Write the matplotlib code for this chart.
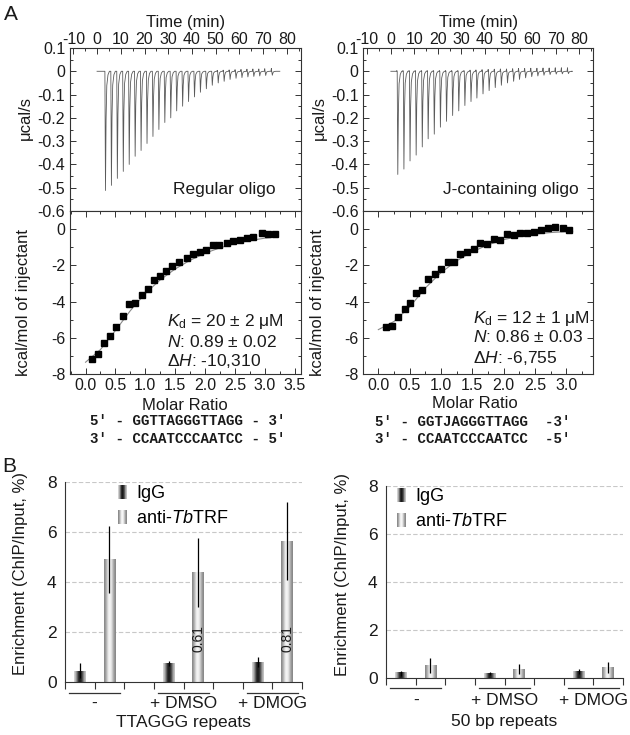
import matplotlib
matplotlib.use('Agg')
import matplotlib.pyplot as plt
import numpy as np
from matplotlib.ticker import MultipleLocator, FuncFormatter
from matplotlib.legend_handler import HandlerBase
from matplotlib.patches import Rectangle

plt.rcParams['font.family'] = ['Liberation Sans', 'DejaVu Sans']
plt.rcParams['axes.unicode_minus'] = False
plt.rcParams['mathtext.fontset'] = 'custom'
plt.rcParams['mathtext.rm'] = 'Liberation Sans'
plt.rcParams['mathtext.it'] = 'Liberation Sans:italic'
plt.rcParams['mathtext.bf'] = 'Liberation Sans:bold'

# ---------------- DATA ----------------
# ITC raw thermogram: injection times (min) and peak heights (ucal/s)
inj_time_L = [3.3, 5.8, 8.3, 10.8, 13.3, 15.8, 18.3, 20.8, 23.3, 25.8, 28.3, 30.8, 33.3, 35.8, 38.3,
              40.8, 43.3, 45.8, 48.3, 50.8, 53.3, 55.8, 58.3, 60.8, 63.3, 65.8, 68.3, 70.8, 73.6]
peak_L = [-0.512, -0.49, -0.46, -0.43, -0.40, -0.365, -0.34, -0.31, -0.28, -0.25, -0.22, -0.20, -0.17,
          -0.15, -0.13, -0.11, -0.09, -0.075, -0.06, -0.05, -0.043, -0.035, -0.03, -0.027, -0.024,
          -0.022, -0.02, -0.018, -0.017]
up_L = [0.0] * 19 + [0.004, 0.005, 0.006, 0.007, 0.008, 0.009, 0.01, 0.01, 0.011, 0.012]

inj_time_R = [2.7, 5.3, 7.9, 10.5, 13.1, 15.6, 18.2, 20.8, 23.4, 26.0, 28.6, 31.2, 33.8, 36.3, 38.9,
              41.5, 44.1, 46.7, 49.3, 51.9, 54.4, 57.0, 59.6, 62.2, 64.8, 67.4, 70.0, 72.6, 75.2]
peak_R = [-0.443, -0.42, -0.385, -0.36, -0.325, -0.29, -0.27, -0.24, -0.215, -0.19, -0.17, -0.147,
          -0.13, -0.115, -0.097, -0.083, -0.07, -0.06, -0.05, -0.043, -0.035, -0.028, -0.023, -0.02,
          -0.017, -0.014, -0.012, -0.011, -0.01]
up_R = [0.003] * 12 + [0.005, 0.006, 0.007, 0.008, 0.009, 0.01, 0.01, 0.011, 0.012, 0.012, 0.013,
                       0.013, 0.014, 0.014, 0.015, 0.015, 0.015]

# ITC integrated heats
mr_L = [0.11, 0.21, 0.31, 0.41, 0.51, 0.62, 0.73, 0.83, 0.94, 1.04, 1.14, 1.25, 1.35, 1.45, 1.57,
        1.69, 1.80, 1.91, 2.02, 2.13, 2.24, 2.36, 2.47, 2.58, 2.70, 2.81, 2.95, 3.06, 3.17]
heat_L = [-7.19, -6.89, -6.31, -5.88, -5.39, -4.80, -4.14, -4.06, -3.64, -3.29, -2.83, -2.61, -2.30,
          -2.04, -1.80, -1.62, -1.38, -1.25, -1.14, -0.90, -0.88, -0.77, -0.68, -0.59, -0.48, -0.42,
          -0.22, -0.29, -0.28]
fit_x_L = [0.0, 0.25, 0.5, 0.75, 1.0, 1.25, 1.5, 1.75, 2.0, 2.25, 2.5, 2.75, 3.0, 3.2]
fit_y_L = [-7.35, -6.65, -5.6, -4.5, -3.55, -2.8, -2.2, -1.72, -1.33, -1.03, -0.8, -0.63, -0.5, -0.43]

mr_R = [0.12, 0.21, 0.31, 0.42, 0.51, 0.60, 0.70, 0.80, 0.90, 1.00, 1.11, 1.21, 1.31, 1.41, 1.52,
        1.62, 1.73, 1.84, 1.94, 2.05, 2.16, 2.26, 2.37, 2.49, 2.59, 2.71, 2.82, 2.94, 3.05]
heat_R = [-5.40, -5.33, -4.84, -4.43, -4.08, -3.53, -3.35, -2.78, -2.47, -2.23, -1.81, -1.81, -1.37,
          -1.28, -1.08, -0.77, -0.82, -0.55, -0.60, -0.27, -0.33, -0.24, -0.22, -0.15, -0.04, 0.07,
          0.13, 0.07, -0.04]
fit_x_R = [0.0, 0.25, 0.5, 0.75, 1.0, 1.25, 1.5, 1.75, 2.0, 2.25, 2.5, 2.75, 3.0, 3.1]
fit_y_R = [-5.55, -5.1, -4.3, -3.25, -2.4, -1.75, -1.25, -0.87, -0.58, -0.4, -0.27, -0.19, -0.14, -0.13]

# ChIP
groups = ['-', '+ DMSO', '+ DMOG']
series = ['IgG', 'anti-$Tb$TRF']
ttaggg_igg = [0.43, 0.73, 0.77]
ttaggg_igg_err = [0.3, 0.1, 0.2]
ttaggg_anti = [4.9, 4.37, 5.64]
ttaggg_anti_err = [1.33, 1.37, 1.55]
ttaggg_ratio = ['', '0.61', '0.81']
bp50_igg = [0.21, 0.2, 0.27]
bp50_igg_err = [0.11, 0.07, 0.1]
bp50_anti = [0.52, 0.37, 0.44]
bp50_anti_err = [0.31, 0.21, 0.22]

# ---------------- LAYOUT ----------------
W, H = 630, 735
fig = plt.figure(figsize=(6.3, 7.35), dpi=100)
TXT = '#1a1a1a'


def rect(x0, y0, x1, y1):
    return [x0 / W, 1 - y1 / H, (x1 - x0) / W, (y1 - y0) / H]


def ftext(x, y, s, **kw):
    kw.setdefault('color', TXT)
    fig.text(x / W, 1 - y / H, s, **kw)


def fmt1(v, p):
    return '0' if abs(v) < 1e-9 else f'{v:.1f}'


def fmt0(v, p):
    return f'{v:.0f}'


def style_itc(ax):
    for s in ax.spines.values():
        s.set_color('#333333')
        s.set_linewidth(0.8)
    ax.tick_params(which='both', direction='in', colors='#333333', labelcolor=TXT,
                   labelsize=11.5, width=0.7)
    ax.tick_params(which='major', length=4)
    ax.tick_params(which='minor', length=2)


def itc(x0, x1, times, peaks, ups, mr, heat, fx, fy, xlim_t, xlim_m, label, annot, ann_xy,
        ylx_top, ylx_bot):
    axt = fig.add_axes(rect(x0, 48, x1, 211))
    axb = fig.add_axes(rect(x0, 211, x1, 374))
    # thermogram built from injection data
    shape_dt = [-0.35, -0.15, -0.05, 0.0, 0.25, 0.5, 0.8, 1.3, 1.9]
    tt = [0.0]
    yy = [0.0]
    for t, h, u in zip(times, peaks, ups):
        for dt, fr in zip(shape_dt, [0, 'u', 0, 0, 1.0, 0.4, 0.12, 0.03, 0]):
            tt.append(t + dt)
            yy.append(u if fr == 'u' else h * fr)
    tt.append(77.0)
    yy.append(0.0)
    axt.plot(tt, yy, color='#5a5a5a', lw=0.6)
    axt.set_xlim(*xlim_t)
    axt.set_ylim(-0.6, 0.1)
    axt.xaxis.set_major_locator(MultipleLocator(10))
    axt.xaxis.set_minor_locator(MultipleLocator(5))
    axt.yaxis.set_major_locator(MultipleLocator(0.1))
    axt.yaxis.set_minor_locator(MultipleLocator(0.05))
    axt.yaxis.set_major_formatter(FuncFormatter(fmt1))
    style_itc(axt)
    axt.tick_params(which='both', top=True, bottom=False, left=True, right=True,
                    labeltop=True, labelbottom=False)
    axt.tick_params(axis='x', pad=1)
    axt.set_xlabel('Time (min)', fontsize=12, color=TXT, labelpad=3)
    axt.xaxis.set_label_position('top')
    axt.set_ylabel('μcal/s', fontsize=12, color=TXT)
    axt.yaxis.set_label_coords(ylx_top, 0.57)
    axt.text(label[1], 0.13, label[0], transform=axt.transAxes, ha='right', va='center',
             fontsize=12.5, color=TXT)

    axb.plot(fx, fy, color='#8a8a8a', lw=0.8, zorder=2)
    axb.plot(mr, heat, ls='none', marker='s', ms=4.2, color='black', zorder=3)
    axb.set_xlim(*xlim_m)
    axb.set_ylim(-8, 1)
    axb.xaxis.set_major_locator(MultipleLocator(0.5))
    axb.xaxis.set_minor_locator(MultipleLocator(0.25))
    axb.yaxis.set_major_locator(MultipleLocator(2))
    axb.yaxis.set_minor_locator(MultipleLocator(1))
    axb.xaxis.set_major_formatter(FuncFormatter(lambda v, p: f'{v:.1f}'))
    axb.yaxis.set_major_formatter(FuncFormatter(fmt0))
    axb.set_yticks([-8, -6, -4, -2, 0])
    style_itc(axb)
    axb.tick_params(which='both', top=True, right=True, labeltop=False, labelright=False)
    axb.tick_params(axis='x', pad=3)
    axb.set_ylabel('kcal/mol of injectant', fontsize=12, color=TXT)
    axb.yaxis.set_label_coords(ylx_bot, 0.44)
    for s, (ax_, ay_) in zip(annot, ann_xy):
        axb.text(ax_, ay_, s, transform=axb.transAxes, ha='left', va='center',
                 fontsize=12.5, color=TXT)
    return axt, axb


itc(70, 300.7, inj_time_L, peak_L, up_L, mr_L, heat_L, fit_x_L, fit_y_L,
    (-11.4, 85.8), (-0.26, 3.6), ('Regular oligo', 0.89),
    [r'$K_\mathrm{d}$ = 20 ± 2 μM', r'$N$: 0.89 ± 0.02', r'Δ$H$: -10,310'],
    [(0.42, 0.325), (0.42, 0.198), (0.42, 0.082)], -0.16, -0.17)
itc(363.3, 593.3, inj_time_R, peak_R, up_R, mr_R, heat_R, fit_x_R, fit_y_R,
    (-11.7, 86.0), (-0.24, 3.43), ('J-containing oligo', 0.935),
    [r'$K_\mathrm{d}$ = 12 ± 1 μM', r'$N$: 0.86 ± 0.03', r'Δ$H$: -6,755'],
    [(0.478, 0.342), (0.478, 0.229), (0.478, 0.096)], -0.16, -0.165)

ftext(185, 406, 'Molar Ratio', ha='center', va='center', fontsize=12)
ftext(475, 404, 'Molar Ratio', ha='center', va='center', fontsize=12)
mono = dict(family=['Liberation Mono', 'DejaVu Sans Mono'], weight='bold', fontsize=10.2,
            ha='center', va='center')
ftext(188, 421, "5′ - GGTTAGGGTTAGG - 3′", **mono)
ftext(188, 439, "3′ - CCAATCCCAATCC - 5′", **mono)
ftext(473, 422, "5′ - GGTJAGGGTTAGG  -3′", **mono)
ftext(473, 439, "3′ - CCAATCCCAATCC  -5′", **mono)
ftext(4, 14, 'A', ha='left', va='center', fontsize=15)
ftext(2, 467, 'B', ha='left', va='center', fontsize=15)

# ---------------- ChIP bar charts ----------------
grad_igg = ['#d0d0d0', '#a8a8a8', '#6a6a6a', '#2e2e2e', '#1a1a1a', '#2e2e2e', '#5a5a5a', '#9a9a9a',
            '#c0c0c0']
grad_anti = ['#8c8c8c', '#a8a8a8', '#cfcfcf', '#eeeeee', '#f6f6f6', '#e6e6e6', '#c4c4c4', '#a0a0a0',
             '#8a8a8a']


class HandlerGrad(HandlerBase):
    def __init__(self, cols):
        super().__init__()
        self.cols = cols

    def create_artists(self, legend, orig, xd, yd, w, h, fs, trans):
        n = len(self.cols)
        arts = []
        for i, c in enumerate(self.cols):
            r = Rectangle((xd + i * w / n, yd - 0.1 * h), w / n + 0.02, h * 1.1, facecolor=c,
                          edgecolor='none', transform=trans)
            arts.append(r)
        return arts


def grad_fill(ax, bars, cols):
    img = np.array([[int(c[1:3], 16) for c in cols]], dtype=float) / 255.0
    for b in bars:
        x, w, hgt = b.get_x(), b.get_width(), b.get_height()
        ax.imshow(img, cmap='gray', vmin=0, vmax=1, aspect='auto', interpolation='bilinear',
                  extent=(x, x + w, 0, hgt), zorder=2)


def chip(x0, y0, x1, y1, igg, igg_e, anti, anti_e, ratios, xlab, leg_xy, ylx, dy):
    ax = fig.add_axes(rect(x0, y0, x1, y1))
    gi = np.arange(len(groups))
    pos_i = gi * 3
    pos_a = gi * 3 + 1
    b1 = ax.bar(pos_i, igg, width=0.4, color='none', edgecolor='none', zorder=2)
    b2 = ax.bar(pos_a, anti, width=0.4, color='none', edgecolor='none', zorder=2)
    grad_fill(ax, b1, grad_igg)
    grad_fill(ax, b2, grad_anti)
    ax.errorbar(pos_i, igg, yerr=igg_e, fmt='none', ecolor='black', elinewidth=0.9, capsize=0,
                zorder=4)
    ax.errorbar(pos_a, anti, yerr=anti_e, fmt='none', ecolor='black', elinewidth=0.9, capsize=0,
                zorder=4)
    for p, r in zip(pos_a, ratios):
        if r:
            ax.text(p, 1.74, r, rotation=90, ha='center', va='center', fontsize=10, color=TXT,
                    zorder=5)
    ax.set_xlim(-0.5, 7.5)
    ax.set_ylim(0, 8)
    ax.set_yticks([0, 2, 4, 6, 8])
    ax.set_xticks(np.arange(-0.5, 7.6, 1.0))
    ax.set_xticklabels([])
    ax.tick_params(axis='x', direction='out', length=5, width=0.8, colors='#333333')
    ax.tick_params(axis='y', direction='out', length=0, labelsize=12.5, labelcolor=TXT, pad=6)
    for yv in [2, 4, 6, 8]:
        ax.axhline(yv, color='#c8c8c8', lw=0.8, ls=(0, (4, 2)), zorder=1)
    for s in ['top', 'right']:
        ax.spines[s].set_visible(False)
    ax.spines['left'].set_color('#333333')
    ax.spines['bottom'].set_color('#333333')
    ax.spines['left'].set_linewidth(0.8)
    ax.spines['bottom'].set_linewidth(0.8)
    ax.set_ylabel('Enrichment (ChIP/Input, %)', fontsize=12, color=TXT)
    ax.yaxis.set_label_coords(ylx, 0.54)
    tr = ax.get_xaxis_transform()
    for g, pi, pa in zip(groups, pos_i, pos_a):
        ax.plot([pi - 0.36, pa + 0.36], [0, 0], transform=tr, color='#333333', lw=0.9,
                clip_on=False)
        ln = ax.lines[-1]
        ln.set_transform(matplotlib.transforms.offset_copy(tr, fig=fig, y=-dy[0], units='dots'))
        ax.annotate(g, xy=((pi + pa) / 2, 0), xycoords=tr, xytext=(0, -dy[1] * 0.72),
                    textcoords='offset points', ha='center', va='center', fontsize=12.5, color=TXT)
    ax.annotate(xlab, xy=(0.5, 0), xycoords='axes fraction', xytext=(0, -dy[2] * 0.72),
                textcoords='offset points', ha='center', va='center', fontsize=12.5, color=TXT)
    h1 = Rectangle((0, 0), 1, 1)
    h2 = Rectangle((0, 0), 1, 1)
    ax.legend([h1, h2], series, handler_map={h1: HandlerGrad(grad_igg), h2: HandlerGrad(grad_anti)},
              loc='upper left', bbox_to_anchor=leg_xy, frameon=False, fontsize=13,
              handlelength=0.5, handleheight=0.7, handletextpad=0.5, labelspacing=0.45,
              borderpad=0, borderaxespad=0)
    return ax


chip(65, 482, 302, 681.7, ttaggg_igg, ttaggg_igg_err, ttaggg_anti, ttaggg_anti_err, ttaggg_ratio,
     'TTAGGG repeats', (0.224, 0.985), -0.155, (11, 21.5, 41))
chip(386, 485.7, 623, 678.3, bp50_igg, bp50_igg_err, bp50_anti, bp50_anti_err, ['', '', ''],
     '50 bp repeats', (0.046, 0.99), -0.152, (10, 22, 43))

fig.savefig('out.png', dpi=100)
